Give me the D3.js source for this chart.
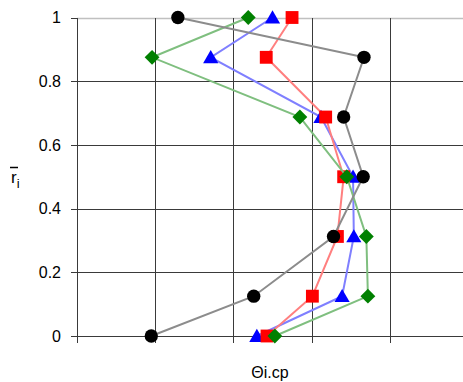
<!DOCTYPE html>
<html>
<head>
<meta charset="utf-8">
<script src="https://cdn.jsdelivr.net/npm/d3@7"></script>
<style>
  html, body { margin: 0; padding: 0; background: #fff; }
  svg { display: block; }
  text { font-family: "Liberation Sans", Arial, sans-serif; }
</style>
</head>
<body>
<svg id="chart" width="463" height="382"></svg>
<script>
// Radial positions (rows) shared by every series
const radii = [0, 0.125, 0.3125, 0.5, 0.6875, 0.875, 1];
// Θi.cp values per series (unlabelled horizontal scale)
const seriesBlack = [0.95, 2.26, 3.28, 3.66, 3.41, 3.67, 1.29];
const seriesBlue  = [2.30, 3.39, 3.54, 3.53, 3.12, 1.71, 2.50];
const seriesRed   = [2.43, 3.01, 3.33, 3.41, 3.18, 2.42, 2.75];
const seriesGreen = [2.53, 3.72, 3.70, 3.45, 2.85, 0.96, 2.19];
const yTicks = [0, 0.2, 0.4, 0.6, 0.8, 1];
const yTickLabels = ["0", "0.2", "0.4", "0.6", "0.8", "1"];
const xGrid = [0, 1, 2, 3, 4, 5];

const svg = d3.select("#chart");
const W = 463;
const plotLeft = 77, plotTop = 17.5, plotBottom = 336;

const x = d3.scaleLinear().domain([0, 5]).range([plotLeft, plotLeft + 5 * 78.2]);
const y = d3.scaleLinear().domain([0, 1]).range([plotBottom, plotTop]);

const grid = svg.append("g");
// horizontal grid lines (with left tick stubs)
grid.selectAll("line.h").data(yTicks.filter(d => d < 1)).enter().append("line")
  .attr("x1", plotLeft - 6).attr("x2", W)
  .attr("y1", d => Math.round(y(d)) + 0.5).attr("y2", d => Math.round(y(d)) + 0.5)
  .attr("stroke", "#3a3a3a").attr("stroke-width", 1);
// top border of plot area
grid.append("line")
  .attr("x1", plotLeft).attr("x2", W)
  .attr("y1", Math.round(y(1)) + 0.5).attr("y2", Math.round(y(1)) + 0.5)
  .attr("stroke", "#c0c0c0").attr("stroke-width", 1.5);
grid.append("line")
  .attr("x1", plotLeft - 6).attr("x2", plotLeft)
  .attr("y1", Math.round(y(1)) + 0.5).attr("y2", Math.round(y(1)) + 0.5)
  .attr("stroke", "#3a3a3a").attr("stroke-width", 1);
// vertical grid lines (with bottom tick stubs)
grid.selectAll("line.v").data(xGrid).enter().append("line")
  .attr("x1", d => Math.round(x(d)) + 0.5).attr("x2", d => Math.round(x(d)) + 0.5)
  .attr("y1", Math.round(y(1))).attr("y2", plotBottom + 7)
  .attr("stroke", "#3a3a3a").attr("stroke-width", 1);

// y tick labels
svg.append("g").selectAll("text").data(yTicks).enter().append("text")
  .attr("x", 61).attr("y", d => y(d))
  .attr("dy", "0.36em")
  .attr("text-anchor", "end")
  .attr("font-size", 16)
  .attr("fill", "#000")
  .text((d, i) => yTickLabels[i]);

// axis titles
svg.append("text")
  .attr("x", 270).attr("y", 378)
  .attr("text-anchor", "middle")
  .attr("font-size", 16)
  .text("Θi.cp");
const yl = svg.append("text")
  .attr("x", 11).attr("y", 183)
  .attr("font-size", 17);
yl.append("tspan").text("r");
yl.append("tspan").attr("font-size", 13).attr("dy", 5).text("i");
svg.append("line")
  .attr("x1", 10).attr("x2", 18)
  .attr("y1", 167.5).attr("y2", 167.5)
  .attr("stroke", "#000").attr("stroke-width", 1.5);

const series = [
  { vals: seriesBlue,  line: "#7f7fff", fill: "#0000ff", shape: "triangle" },
  { vals: seriesRed,   line: "#ff7f7f", fill: "#ff0000", shape: "square" },
  { vals: seriesGreen, line: "#7fbf7f", fill: "#008000", shape: "diamond" },
  { vals: seriesBlack, line: "#8c8c8c", fill: "#000000", shape: "circle" }
];

const shapes = {
  triangle: d3.symbol().type(d3.symbolTriangle).size(100),
  square:   d3.symbol().type(d3.symbolSquare).size(165),
  diamond:  d3.symbol().type(d3.symbolSquare).size(110),
  circle:   d3.symbol().type(d3.symbolCircle).size(140)
};

const lineGen = d3.line().x(d => x(d[0])).y(d => y(d[1]));

series.forEach(s => {
  const pts = s.vals.map((v, i) => [v, radii[i]]);
  const g = svg.append("g");
  g.append("path")
    .attr("d", lineGen(pts))
    .attr("fill", "none")
    .attr("stroke", s.line)
    .attr("stroke-width", 2);
  g.selectAll("path.m").data(pts).enter().append("path")
    .attr("transform", d => {
      const tx = x(d[0]), ty = y(d[1]) + (s.shape === "triangle" ? 1.5 : 0);
      return `translate(${tx},${ty})` + (s.shape === "diamond" ? " rotate(45)" : "");
    })
    .attr("d", shapes[s.shape]())
    .attr("fill", s.fill);
});
</script>
</body>
</html>
